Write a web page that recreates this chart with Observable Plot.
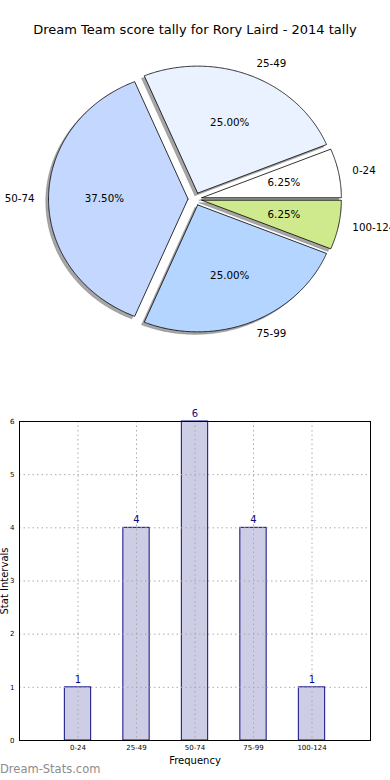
<!DOCTYPE html>
<html>
<head>
<meta charset="utf-8">
<script src="https://cdn.jsdelivr.net/npm/d3@7"></script>
<script src="https://cdn.jsdelivr.net/npm/@observablehq/plot@0.6"></script>
<style>
  html, body { margin: 0; padding: 0; background: #fff; }
  body { width: 390px; height: 780px; position: relative; overflow: hidden; font-family: "DejaVu Sans", sans-serif; }
  #title { position: absolute; top: 21px; left: 0; width: 390px; text-align: center; font-size: 13px; line-height: 18px; color: #000; }
  #pie { position: absolute; top: 0; left: 0; }
  #bar { position: absolute; top: 390px; left: 0; }
  #wm { position: absolute; left: 0; top: 762px; font-size: 11.5px; color: #8c8c8c; line-height: 14px; }
  svg { overflow: visible; }
</style>
</head>
<body>
<div id="pie"></div>
<div id="title">Dream Team score tally for Rory Laird - 2014 tally</div>
<div id="bar"></div>
<div id="wm">Dream-Stats.com</div>
<script>
// ---- data ----
const categories = ["0-24", "25-49", "50-74", "75-99", "100-124"];
const counts = [1, 4, 6, 4, 1];
const pieColors = ["#ffffff", "#eaf1ff", "#c4d8ff", "#b4d5ff", "#cfea8c"];
const explode = [0.05, 0.05, 0.05, 0.05, 0.05];
const yTicks = [0, 1, 2, 3, 4, 5, 6];

// ---- pie geometry (unit circle, matplotlib convention: CCW from +x) ----
const total = d3.sum(counts);
let acc = 0;
const slices = counts.map((c, i) => {
  const t1 = acc / total * 2 * Math.PI;
  acc += c;
  const t2 = acc / total * 2 * Math.PI;
  const mid = (t1 + t2) / 2;
  const ox = explode[i] * Math.cos(mid), oy = explode[i] * Math.sin(mid);
  return {i, cat: categories[i], count: c, t1, t2, mid, ox, oy, color: pieColors[i], pct: (100 * c / total).toFixed(2) + "%"};
});
function polygon(s, dx, dy) {
  const pts = [{slice: s.i, x: s.ox + dx, y: s.oy + dy}];
  const n = Math.max(8, Math.ceil((s.t2 - s.t1) / (Math.PI / 360)));
  for (let k = 0; k <= n; k++) {
    const t = s.t1 + (s.t2 - s.t1) * k / n;
    pts.push({slice: s.i, x: s.ox + dx + Math.cos(t), y: s.oy + dy + Math.sin(t)});
  }
  pts.push({slice: s.i, x: s.ox + dx, y: s.oy + dy});
  return pts;
}
const shadowMarks = slices.map(s => Plot.line(polygon(s, -0.02, -0.02), {
  x: "x", y: "y", fill: "#4d4d4d", fillOpacity: 0.5, stroke: "#4d4d4d", strokeOpacity: 0.5, strokeWidth: 0.5, curve: "linear"
}));
const wedgeMarks = slices.map(s => Plot.line(polygon(s, 0, 0), {
  x: "x", y: "y", fill: s.color, stroke: "#000", strokeWidth: 0.8, curve: "linear"
}));
const labelRows = slices.map(s => ({
  ...s,
  lx: s.ox + 1.1 * Math.cos(s.mid), ly: s.oy + 1.1 * Math.sin(s.mid),
  px: s.ox + 0.6 * Math.cos(s.mid), py: s.oy + 0.6 * Math.sin(s.mid)
}));

const rx = 139.5, ry = 127, cx = 194.5, cy = 198.5, pieH = 380;
const pie = Plot.plot({
  width: 390, height: pieH,
  margin: 0,
  x: {domain: [-cx / rx, (390 - cx) / rx], axis: null},
  y: {domain: [(cy - pieH) / ry, cy / ry], axis: null},
  style: {fontFamily: "DejaVu Sans", background: "transparent"},
  marks: [
    ...shadowMarks,
    ...wedgeMarks,
    Plot.text(labelRows.filter(d => d.lx > 0), {x: "lx", y: "ly", text: "cat", textAnchor: "start", fontSize: 10.3, fill: "#000"}),
    Plot.text(labelRows.filter(d => d.lx <= 0), {x: "lx", y: "ly", text: "cat", textAnchor: "end", fontSize: 10.3, fill: "#000"}),
    Plot.text(labelRows, {x: "px", y: "py", text: "pct", textAnchor: "middle", fontSize: 10.3, fill: "#000"})
  ]
});
document.getElementById("pie").appendChild(pie);

// ---- bar chart ----
const barRows = categories.map((c, i) => ({cat: c, pos: i + 1, count: counts[i]}));
const bar = Plot.plot({
  width: 390, height: 390,
  marginTop: 31, marginBottom: 40, marginLeft: 19, marginRight: 20,
  x: {domain: [0, 6]},
  y: {domain: [0, 6]},
  style: {fontFamily: "DejaVu Sans", background: "transparent"},
  marks: [
    Plot.rectY(barRows, {x1: d => d.pos - 0.225, x2: d => d.pos + 0.225, y: "count", fill: "#cdcde6", stroke: "#0c0c80", strokeWidth: 1}),
    Plot.gridX([1, 2, 3, 4, 5], {stroke: "#aaa", strokeOpacity: 1, strokeDasharray: "1.5,3"}),
    Plot.gridY(yTicks, {stroke: "#aaa", strokeOpacity: 1, strokeDasharray: "1.5,3"}),
    Plot.frame({stroke: "#000", strokeWidth: 1}),
    Plot.axisX([1, 2, 3, 4, 5], {tickFormat: d => categories[d - 1], tickSize: 0, tickPadding: 5, fontSize: 7, label: null, fill: "#000"}),
    Plot.axisY(yTicks, {tickFormat: d => String(d), tickSize: 0, tickPadding: 5, fontSize: 7, label: null, fill: "#000"}),
    Plot.text(barRows, {x: "pos", y: "count", text: d => String(d.count), dy: -8, fill: "#0c0c80", fontSize: 10}),
    Plot.text(["Frequency"], {frameAnchor: "bottom", text: d => d, lineAnchor: "middle", textAnchor: "middle", dy: 20, fontSize: 10, fill: "#000"}),
    Plot.text(["Stat Intervals"], {frameAnchor: "left", text: d => d, rotate: -90, textAnchor: "middle", lineAnchor: "middle", dx: -15, fontSize: 10, fill: "#000"})
  ]
});
document.getElementById("bar").appendChild(bar);
</script>
</body>
</html>
